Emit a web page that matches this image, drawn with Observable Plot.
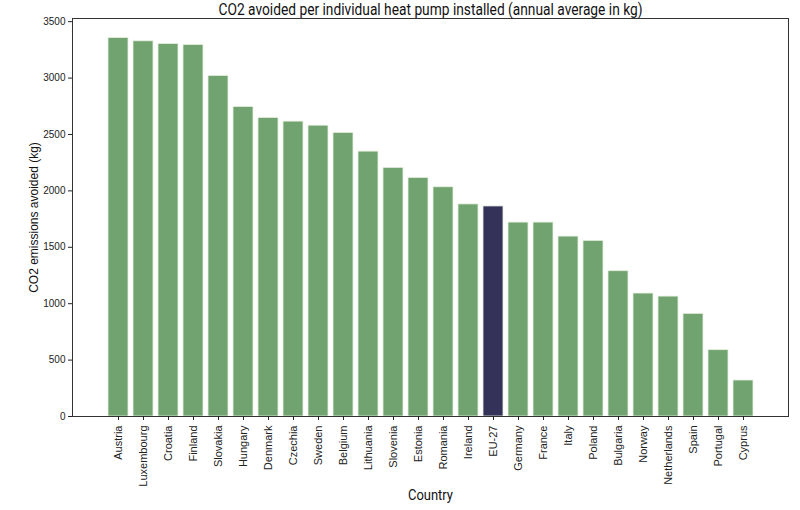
<!DOCTYPE html>
<html>
<head>
<meta charset="utf-8">
<script src="https://cdn.jsdelivr.net/npm/d3@7"></script>
<script src="https://cdn.jsdelivr.net/npm/@observablehq/plot@0.6"></script>
<style>
  html, body { margin: 0; padding: 0; background: #fff; }
  #chart svg { display: block; }
</style>
</head>
<body>
<div id="chart"></div>
<script>
const countries = ["Austria","Luxembourg","Croatia","Finland","Slovakia","Hungary","Denmark","Czechia","Sweden","Belgium","Lithuania","Slovenia","Estonia","Romania","Ireland","EU-27","Germany","France","Italy","Poland","Bulgaria","Norway","Netherlands","Spain","Portugal","Cyprus"];
const co2Avoided = [3355,3326,3302,3293,3019,2744,2647,2614,2578,2514,2348,2204,2115,2032,1880,1862,1719,1719,1595,1557,1288,1090,1063,910,588,319];
const highlight = "EU-27";
const yTicks = [0,500,1000,1500,2000,2500,3000,3500];
const titleText = "CO2 avoided per individual heat pump installed (annual average in kg)";
const xLabel = "Country";
const yLabel = "CO2 emissions avoided (kg)";

const data = countries.map((c, i) => ({country: c, value: co2Avoided[i], eu: c === highlight}));

const chart = Plot.plot({
  width: 800,
  height: 510,
  marginLeft: 72,
  marginRight: 12,
  marginTop: 18,
  marginBottom: 94,
  style: {fontFamily: "Liberation Sans, Arial, sans-serif", fontSize: "11px", color: "#222", background: "#fff"},
  x: {domain: countries, paddingInner: 0.2, paddingOuter: 1.29, label: null},
  y: {domain: [0, 3528], label: null},
  color: {domain: [false, true], range: ["#70a36f", "#35325a"]},
  marks: [
    Plot.barY(data, {x: "country", y: "value", fill: "eu", stroke: "#e8efe0", strokeWidth: 0.8}),
    Plot.frame({stroke: "#333", strokeWidth: 1}),
    Plot.axisY({ticks: yTicks, tickFormat: d => String(d), tickSize: 4, tickPadding: 3, fontSize: 10, label: null}),
    Plot.axisX({tickSize: 4, tickRotate: -90, tickPadding: 5, fontSize: 11, label: null}),
    Plot.text([titleText], {frameAnchor: "top", lineAnchor: "middle", dy: -9, fontSize: 16, fontFamily: "Roboto, sans-serif", fill: "#111", className: "ttl"}),
    Plot.text([xLabel], {frameAnchor: "bottom", lineAnchor: "middle", dy: 79, fontSize: 14, fontFamily: "Roboto, sans-serif", fill: "#111", className: "xl"}),
    Plot.text([yLabel], {frameAnchor: "left", dx: -38, rotate: -90, textAnchor: "middle", fontSize: 12, fill: "#111"})
  ]
});
document.getElementById("chart").append(chart);
const t = chart.querySelector(".ttl text");
if (t) { t.setAttribute("textLength", 424); t.setAttribute("lengthAdjust", "spacingAndGlyphs"); }
const xl = chart.querySelector(".xl text");
if (xl) { xl.setAttribute("textLength", 45); xl.setAttribute("lengthAdjust", "spacingAndGlyphs"); }
</script>
</body>
</html>
